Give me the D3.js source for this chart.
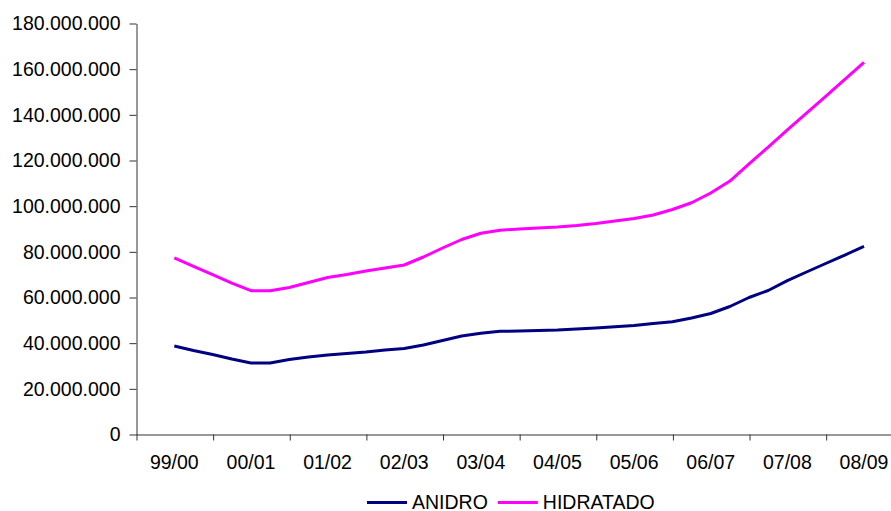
<!DOCTYPE html>
<html>
<head>
<meta charset="utf-8">
<script src="https://cdn.jsdelivr.net/npm/d3@7"></script>
<style>
  html, body { margin: 0; padding: 0; background: #fff; }
  svg { display: block; font-family: "Liberation Sans", Arial, sans-serif; }
</style>
</head>
<body>
<svg id="chart" width="891" height="511"></svg>
<script>
// Safras (harvest years) on the category axis
const categories = ["99/00", "00/01", "01/02", "02/03", "03/04", "04/05", "05/06", "06/07", "07/08", "08/09"];

// Readings every quarter of a safra, from the middle of 99/00 to the middle of 08/09
const stepsPerSafra = 4;

const anidro = [
  38760000, 36790000, 35040000, 33070000, 31310000, 31310000, 32850000, 33940000,
  34820000, 35470000, 36130000, 37010000, 37660000, 39200000, 41170000, 43140000,
  44320000, 45200000, 45330000, 45550000, 45770000, 46200000, 46640000, 47170000,
  47740000, 48610000, 49400000, 51020000, 52990000, 56060000, 60000000, 63070000,
  67360000, 71170000, 74890000, 78610000, 82340000
];
const hidratado = [
  77300000, 73620000, 69990000, 66310000, 62980000, 62980000, 64380000, 66570000,
  68760000, 70070000, 71610000, 72920000, 74230000, 77740000, 81680000, 85400000,
  88120000, 89430000, 90000000, 90440000, 90880000, 91530000, 92410000, 93500000,
  94600000, 96130000, 98540000, 101480000, 105770000, 111020000, 118470000, 125910000,
  133360000, 140720000, 148120000, 155560000, 163010000
];

// Value axis ticks
const yTicks = [0, 20000000, 40000000, 60000000, 80000000, 100000000, 120000000, 140000000, 160000000, 180000000];

const seriesNames  = ["ANIDRO", "HIDRATADO"];
const seriesColors = ["#000080", "#ff00ff"];
const seriesData   = [anidro, hidratado];

const svg = d3.select("#chart");
const axisColor = "#333";
const fontSize = 19.5;
const fontFamily = "Liberation Sans, Arial, sans-serif";

const left = 136, bandW = 76.63;
const x = d3.scaleBand().domain(categories).range([left, left + bandW * categories.length]).padding(0);
const y = d3.scaleLinear().domain([0, 180000000]).range([434.5, 23.5]);

// Position of each reading along the safra axis
const center = c => x(c) + x.bandwidth() / 2;
const xStep = d3.scaleLinear()
  .domain([0, (categories.length - 1) * stepsPerSafra])
  .range([center(categories[0]), center(categories[categories.length - 1])]);

const ptBR = d3.formatLocale({ decimal: ",", thousands: ".", grouping: [3], currency: ["R$", ""] });
const fmt = ptBR.format(",d");

// Value axis
const yAxis = svg.append("g")
  .attr("transform", `translate(${left + 0.5},0)`)
  .call(d3.axisLeft(y).tickValues(yTicks).tickFormat(fmt).tickSize(7).tickSizeOuter(0).tickPadding(9));
yAxis.select(".domain").attr("stroke", axisColor);
yAxis.selectAll(".tick line").attr("stroke", axisColor);
yAxis.selectAll(".tick text")
  .attr("fill", "#000")
  .style("font-size", fontSize + "px")
  .style("font-family", fontFamily);

// Category axis: boundary ticks between safras
const xBound = d3.scaleLinear().domain([0, categories.length]).range(x.range());
const xAxisTicks = svg.append("g")
  .attr("transform", `translate(0,${y(0)})`)
  .call(d3.axisBottom(xBound).tickValues(d3.range(categories.length)).tickFormat("").tickSize(6).tickSizeOuter(0));
xAxisTicks.select(".domain").attr("stroke", axisColor);
xAxisTicks.selectAll(".tick line").attr("stroke", axisColor).attr("transform", "translate(0.5,0)");

// Category labels centred in each band
const xAxisLabels = svg.append("g")
  .attr("transform", `translate(0,${y(0)})`)
  .call(d3.axisBottom(x).tickSize(0).tickPadding(21));
xAxisLabels.select(".domain").remove();
xAxisLabels.selectAll(".tick text")
  .attr("fill", "#000")
  .style("font-size", fontSize + "px")
  .style("font-family", fontFamily);

// Series lines
const line = d3.line()
  .x((d, i) => xStep(i))
  .y(d => y(d));

seriesData.forEach((vals, k) => {
  svg.append("path")
    .datum(vals)
    .attr("fill", "none")
    .attr("stroke", seriesColors[k])
    .attr("stroke-width", 3)
    .attr("stroke-linejoin", "round")
    .attr("d", line);
});

// Legend
const legend = svg.append("g").attr("transform", "translate(367,502.5)");
let lx = 0;
seriesNames.forEach((name, k) => {
  const g = legend.append("g").attr("transform", `translate(${lx},0)`);
  g.append("line").attr("x1", 0).attr("x2", 40).attr("y1", 0).attr("y2", 0)
    .attr("stroke", seriesColors[k]).attr("stroke-width", 3);
  const t = g.append("text").attr("x", 45).attr("y", 6)
    .style("font-size", fontSize + "px").style("font-family", fontFamily)
    .attr("fill", "#000").text(name);
  lx += 45 + t.node().getComputedTextLength() + 10;
});
</script>
</body>
</html>
